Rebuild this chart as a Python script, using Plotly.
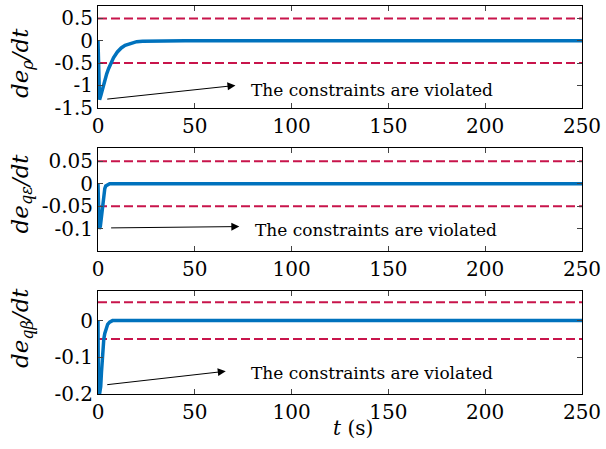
import plotly.graph_objects as go

# ---- data ----
t1 = [0, 0.3, 0.8, 1.5, 2.5, 3.5, 4.5, 5.5, 6.5, 8, 10, 12, 14, 17, 20, 23, 30, 45, 52, 100, 150, 200, 250]
y1 = [0, -1.0, -1.32, -1.22, -1.04, -0.88, -0.74, -0.62, -0.51, -0.38, -0.25, -0.16, -0.1, -0.05, -0.02, -0.008, 0, 0, 0, 0, 0, 0, 0]

t2 = [0, 0.2, 0.6, 1.2, 1.6, 2.0, 2.5, 3.0, 3.5, 4.0, 5.0, 6.0, 50, 100, 150, 200, 250]
y2 = [0, -0.1, -0.1, -0.095, -0.08, -0.062, -0.04, -0.022, -0.011, -0.005, -0.0015, 0, 0, 0, 0, 0, 0]

t3 = [0, 0.2, 0.8, 1.4, 1.8, 2.2, 2.6, 3.0, 3.5, 4.2, 5.0, 6.0, 7.5, 50, 100, 150, 200, 250]
y3 = [0, -0.2, -0.2, -0.18, -0.14, -0.1, -0.07, -0.05, -0.035, -0.02, -0.01, -0.004, 0, 0, 0, 0, 0, 0]

bounds = [0.5, 0.05, 0.05]
yranges = [[-1.5, 0.78], [-0.15, 0.08], [-0.2, 0.08]]
ytickvals = [[-1.5, -1, -0.5, 0, 0.5], [-0.1, -0.05, 0, 0.05], [-0.2, -0.1, 0]]
yticktext = [["-1.5", "-1", "-0.5", "0", "0.5"], ["-0.1", "-0.05", "0", "0.05"], ["-0.2", "-0.1", "0"]]
ytitles = ["<i>de</i><sub><i>\u03c1</i></sub><i>/dt</i>",
           "<i>de</i><sub><i>q\u03b5</i></sub><i>/dt</i>",
           "<i>de</i><sub><i>q\u03b2</i></sub><i>/dt</i>"]
xticks = [0, 50, 100, 150, 200, 250]
xtitle = "<i>t</i> (s)"
note = "The constraints are violated"
arrows = [((4, -1.31), (71, -1.0), (78, -1.1)),
          ((6, -0.098), (73, -0.095), (80, -0.102)),
          ((4, -0.175), (66, -0.138), (78, -0.143))]

domains = [[0.7378, 1.0], [0.3676, 0.635], [0.0, 0.2648]]
title_y = [0.853, 0.517, 0.170]

blue = "rgb(0,114,189)"
red = "rgb(200,20,75)"
font = "DejaVu Serif"

fig = go.Figure()
series = [(t1, y1), (t2, y2), (t3, y3)]
for i, (tt, yy) in enumerate(series):
    xa = "x" if i == 0 else f"x{i+1}"
    ya = "y" if i == 0 else f"y{i+1}"
    for b in (bounds[i], -bounds[i]):
        fig.add_trace(go.Scatter(x=[0, 250], y=[b, b], mode="lines",
                                 line=dict(color=red, width=2, dash="9px,4px"),
                                 xaxis=xa, yaxis=ya, showlegend=False))
    fig.add_trace(go.Scatter(x=tt, y=yy, mode="lines",
                             line=dict(color=blue, width=3.5),
                             xaxis=xa, yaxis=ya, showlegend=False))
    (tx, ty), (hx, hy), (px, py) = arrows[i]
    fig.add_annotation(x=hx, y=hy, ax=tx, ay=ty, xref=xa, yref=ya, axref=xa, ayref=ya,
                       showarrow=True, arrowhead=2, arrowsize=1.6, arrowwidth=1,
                       arrowcolor="black", text="")
    fig.add_annotation(x=px, y=py, xref=xa, yref=ya, text=note, showarrow=False,
                       xanchor="left", yanchor="middle",
                       font=dict(family=font, size=17, color="black"))
    fig.add_annotation(x=-0.157, y=title_y[i], xref="paper", yref="paper",
                       text=ytitles[i], showarrow=False, textangle=-90,
                       xanchor="center", yanchor="middle",
                       font=dict(family=font, size=23, color="black"))

fig.add_annotation(x=0.527, y=-0.088, xref="paper", yref="paper", text=xtitle,
                   showarrow=False, xanchor="center", yanchor="middle",
                   font=dict(family=font, size=20, color="black"))

layout = dict(
    width=606, height=449,
    margin=dict(l=98, r=20, t=5, b=55),
    paper_bgcolor="white", plot_bgcolor="white",
    font=dict(family=font, color="black"),
)
for i in range(3):
    xk = "xaxis" if i == 0 else f"xaxis{i+1}"
    yk = "yaxis" if i == 0 else f"yaxis{i+1}"
    layout[xk] = dict(domain=[0, 1], anchor="y" if i == 0 else f"y{i+1}",
                      range=[0, 250], tickvals=xticks, ticks="inside", ticklen=5,
                      showline=True, mirror="ticks", linecolor="black", linewidth=1,
                      showgrid=False, zeroline=False,
                      tickfont=dict(family=font, size=20, color="black"))
    layout[yk] = dict(domain=domains[i], anchor="x" if i == 0 else f"x{i+1}",
                      range=yranges[i], tickvals=ytickvals[i], ticktext=yticktext[i],
                      ticks="inside", ticklen=5,
                      showline=True, mirror="ticks", linecolor="black", linewidth=1,
                      showgrid=False, zeroline=False,
                      tickfont=dict(family=font, size=20, color="black"))
fig.update_layout(**layout)
fig.write_html("out.html")
